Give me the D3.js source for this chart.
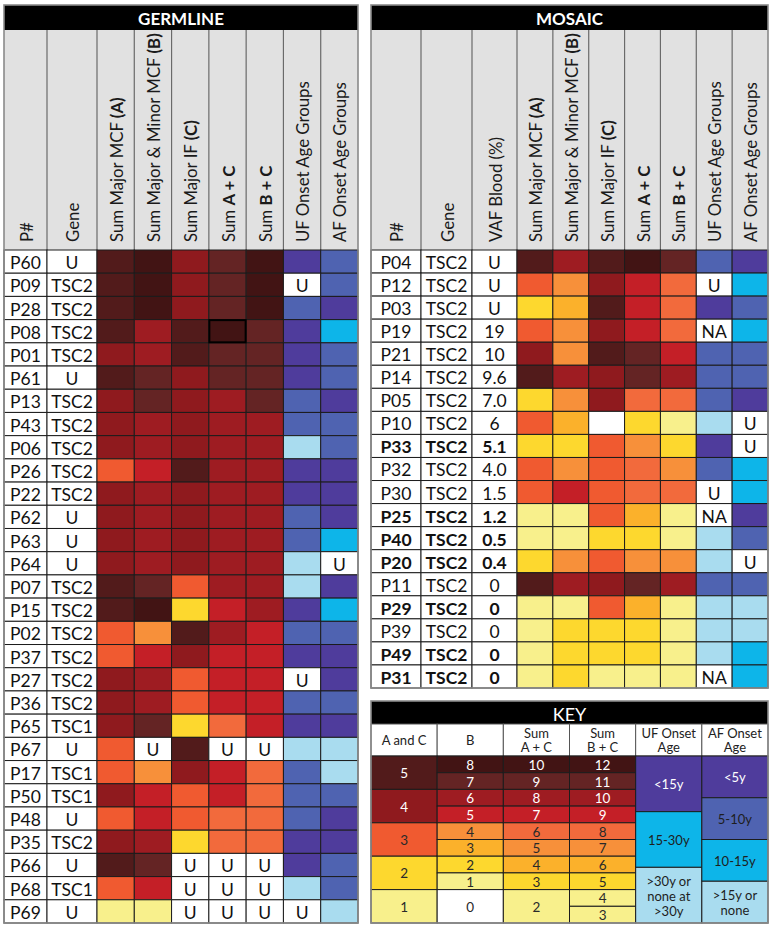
<!DOCTYPE html>
<html><head><meta charset="utf-8">
<script src="https://cdn.jsdelivr.net/npm/d3@7/dist/d3.min.js"></script>
<style>
body{margin:0;background:#fff;}
svg{display:block;}
text{font-family:Lato,"Open Sans",sans-serif;}
</style>
</head><body>
<svg id="chart" width="772" height="929"></svg>
<script>
// ---------------- DATA ----------------
// GERMLINE
const gIds  = ["P60","P09","P28","P08","P01","P61","P13","P43","P06","P26","P22","P62","P63","P64","P07","P15","P02","P37","P27","P36","P65","P67","P17","P50","P48","P35","P66","P68","P69"];
const gGene = ["U","TSC2","TSC2","TSC2","TSC2","U","TSC2","TSC2","TSC2","TSC2","TSC2","U","U","U","TSC2","TSC2","TSC2","TSC2","TSC2","TSC2","TSC1","U","TSC1","TSC1","U","TSC2","U","TSC1","U"];
const gA  = [5,5,5,5,4,5,4,4,4,3,4,4,4,4,5,5,3,3,4,4,4,3,3,4,3,4,5,3,1];
const gB  = [8,8,8,6,6,7,7,6,6,5,6,6,6,6,7,8,4,5,6,6,7,"U",4,5,5,6,7,5,1];
const gC  = [4,4,4,5,5,4,4,4,4,5,4,4,4,4,3,2,5,4,3,3,2,5,4,3,3,2,"U","U","U"];
const gAC = [9,9,9,10,9,9,8,8,8,8,8,8,8,8,8,7,8,7,7,7,6,"U",7,7,6,6,"U","U","U"];
const gBC = [12,12,12,11,11,11,11,10,10,10,10,10,10,10,10,10,9,9,9,9,9,"U",8,8,8,8,"U","U","U"];
// onset age groups: 1 = youngest (purple) ... 4 = oldest / none (light blue)
const gUF = [1,"U",2,1,1,1,2,2,4,1,1,2,2,4,4,1,2,1,"U",2,1,4,2,2,2,1,1,4,"U"];
const gAF = [2,2,1,3,2,2,1,2,2,1,1,1,3,"U",1,3,2,1,1,2,1,4,4,2,1,1,2,2,4];

// MOSAIC
const mIds  = ["P04","P12","P03","P19","P21","P14","P05","P10","P33","P32","P30","P25","P40","P20","P11","P29","P39","P49","P31"];
const mGene = ["TSC2","TSC2","TSC2","TSC2","TSC2","TSC2","TSC2","TSC2","TSC2","TSC2","TSC2","TSC2","TSC2","TSC2","TSC2","TSC2","TSC2","TSC2","TSC2"];
const mVAF  = ["U","U","U","19","10","9.6","7.0","6","5.1","4.0","1.5","1.2","0.5","0.4","0","0","0","0","0"];
const mBold = ["P33","P25","P40","P20","P29","P49","P31"];
const mA  = [5,3,2,3,4,5,2,3,2,3,3,1,1,2,5,1,1,1,1];
const mB  = [6,4,3,4,4,6,4,3,2,4,5,1,1,4,6,1,2,2,2];
const mC  = [5,4,5,4,5,4,4,0,3,3,3,3,2,3,4,3,2,2,1];
const mAC = [10,7,7,7,9,9,6,3,5,6,6,4,3,5,9,4,3,3,2];
const mBC = [11,8,8,8,9,10,8,3,5,7,8,4,3,7,10,4,4,4,3];
const mUF = [2,"U",1,"NA",2,2,2,4,1,2,"U","NA",4,4,2,4,4,4,"NA"];
const mAF = [1,3,2,3,2,2,1,"U","U",3,3,1,2,"U",2,4,4,3,3];

// Column headers: [regular part, bold part]
const gHeaders = [["P#",""],["Gene",""],["Sum Major MCF ","(A)"],["Sum Major & Minor MCF ","(B)"],["Sum Major IF ","(C)"],["Sum ","A + C"],["Sum ","B + C"],["UF Onset Age Groups",""],["AF Onset Age Groups",""]];
const mHeaders = [["P#",""],["Gene",""],["VAF Blood (%)",""],["Sum Major MCF ","(A)"],["Sum Major & Minor MCF ","(B)"],["Sum Major IF ","(C)"],["Sum ","A + C"],["Sum ","B + C"],["UF Onset Age Groups",""],["AF Onset Age Groups",""]];

// KEY
const keyHeaders = [["A and C"],["B"],["Sum","A + C"],["Sum","B + C"],["UF Onset","Age"],["AF  Onset","Age"]];
const keyAC   = [5,4,3,2,1];
const keyB    = [8,7,6,5,4,3,2,1,0];
const keySumAC= [10,9,8,7,6,5,4,3,2];
const keySumBC= [12,11,10,9,8,7,6,5,4,3];
const keyUF   = [[1,"<15y"],[3,"15-30y"],[4,">30y or|none at|>30y"]];
const keyAF   = [[1,"<5y"],[2,"5-10y"],[3,"10-15y"],[4,">15y or|none"]];

// ---------------- COLOURS ----------------
const L = ["#ffffff","#f8f08c","#fdd82e","#fbb12b","#f7903a","#f26a3c","#c41f27","#9e1c22","#642424","#421414"];
const colAC1 = d3.scaleOrdinal().domain([0,1,2,3,4,5]).range([L[0],L[1],L[2],"#f05a30","#8f1a1e","#521b1b"]);
const colB   = d3.scaleOrdinal().domain([0,1,2,3,4,5,6,7,8]).range([L[0],L[1],L[2],L[3],L[4],L[6],L[7],L[8],L[9]]);
const colSumAC = d3.scaleOrdinal().domain([2,3,4,5,6,7,8,9,10]).range(L.slice(1));
const colSumBC = d3.scaleOrdinal().domain([3,4,5,6,7,8,9,10,11,12]).range([L[1]].concat(L.slice(1)));
const colOnset = d3.scaleOrdinal().domain([1,2,3,4]).range(["#4f3c9c","#4f63b1","#0db5e9","#a9dcef"]);
function textOn(c){ return d3.hsl(c).l < 0.47 ? "#ffffff" : "#2a2a2a"; }

// ---------------- DRAW ----------------
const svg = d3.select("#chart");
const FONT = 17.5;

function drawTable(opt){
  const g = svg.append("g");
  const x0 = opt.x0, x1 = opt.x1;
  const band = d3.scaleBand().domain(d3.range(7)).range([opt.bandStart, x1]);
  const colX = opt.textEdges.slice(0);
  const colW = [];
  for(let i=0;i<opt.textEdges.length;i++){
    const next = (i < opt.textEdges.length-1) ? opt.textEdges[i+1] : opt.bandStart;
    colW.push(next - opt.textEdges[i]);
  }
  d3.range(7).forEach(i => { colX.push(band(i)); colW.push(band.bandwidth()); });
  const nText = opt.textEdges.length;

  const y = d3.scaleBand().domain(opt.ids).range([opt.bodyTop, opt.bodyBottom]);

  // title bar
  g.append("rect").attr("x", x0).attr("y", 5).attr("width", x1-x0).attr("height", 25).attr("fill", "#000");
  g.append("text").attr("x", (x0+x1)/2).attr("y", 18.5).attr("text-anchor","middle").attr("dominant-baseline","central")
    .attr("fill","#fff").attr("font-weight","bold").attr("font-size",17).text(opt.title);

  // header cells
  g.append("rect").attr("x", x0).attr("y", 30).attr("width", x1-x0).attr("height", opt.bodyTop-30).attr("fill","#e1e1e1");
  colX.forEach((cx,i) => {
    if(i>0) g.append("line").attr("x1",cx).attr("x2",cx).attr("y1",30).attr("y2",opt.bodyTop).attr("stroke","#6a6a6a").attr("stroke-width",1.2);
    const t = g.append("text").attr("transform",`translate(${cx+colW[i]/2},${opt.bodyTop-8}) rotate(-90)`)
      .attr("dominant-baseline","central").attr("font-size",16.8).attr("fill","#1a1a1a");
    t.append("tspan").text(opt.headers[i][0]);
    if(opt.headers[i][1]) t.append("tspan").attr("font-weight","bold").text(opt.headers[i][1]);
  });

  // body
  const rows = g.selectAll("g.row").data(opt.rows).enter().append("g").attr("class","row")
    .attr("transform", d => `translate(0,${y(d.id)})`);
  rows.each(function(d){
    const r = d3.select(this);
    d.cells.forEach((c,i) => {
      r.append("rect").attr("x", colX[i]).attr("y", 0).attr("width", colW[i]).attr("height", y.bandwidth())
        .attr("fill", c.fill).attr("stroke", "#1c1c1c").attr("stroke-width", 1);
      if(c.text !== null && c.text !== undefined){
        r.append("text").attr("x", colX[i]+colW[i]/2).attr("y", y.bandwidth()/2+1)
          .attr("text-anchor","middle").attr("dominant-baseline","central")
          .attr("font-size", FONT).attr("font-weight", (d.bold && i < nText) ? "bold":"normal").attr("fill","#111").text(c.text);
      }
    });
  });
  if(opt.highlight){
    opt.highlight.forEach(h => {
      g.append("rect").attr("x", colX[h.col]+0.5).attr("y", y(h.id)+0.5).attr("width", colW[h.col]-1).attr("height", y.bandwidth()-1)
        .attr("fill","none").attr("stroke","#000").attr("stroke-width",2);
    });
  }
  // outer frame
  g.append("rect").attr("x", x0).attr("y", 5).attr("width", x1-x0).attr("height", opt.bodyBottom-5)
    .attr("fill","none").attr("stroke","#8a8a8a").attr("stroke-width",1.6);
}

function onsetCell(v){
  if(typeof v === "number") return {fill: colOnset(v), text: null};
  return {fill:"#ffffff", text: v};
}
function scoreCell(fn, v){
  if(typeof v === "number") return {fill: fn(v), text: null};
  return {fill:"#ffffff", text: v};
}

const gRows = gIds.map((id,i) => ({
  id, bold:false,
  cells:[{fill:"#fff",text:id},{fill:"#fff",text:gGene[i]},
    scoreCell(colAC1,gA[i]),scoreCell(colB,gB[i]),scoreCell(colAC1,gC[i]),
    scoreCell(colSumAC,gAC[i]),scoreCell(colSumBC,gBC[i]),onsetCell(gUF[i]),onsetCell(gAF[i])]
}));
const mRows = mIds.map((id,i) => ({
  id, bold: mBold.includes(id),
  cells:[{fill:"#fff",text:id},{fill:"#fff",text:mGene[i]},{fill:"#fff",text:mVAF[i]},
    scoreCell(colAC1,mA[i]),scoreCell(colB,mB[i]),scoreCell(colAC1,mC[i]),
    scoreCell(colSumAC,mAC[i]),scoreCell(colSumBC,mBC[i]),onsetCell(mUF[i]),onsetCell(mAF[i])]
}));

drawTable({title:"GERMLINE", x0:4, x1:358, textEdges:[4,47], bandStart:97, bodyTop:250, bodyBottom:923,
  ids:gIds, rows:gRows, headers:gHeaders, highlight:[{id:"P08", col:5}]});
drawTable({title:"MOSAIC", x0:371, x1:768, textEdges:[371,421,472], bandStart:517, bodyTop:250, bodyBottom:688,
  ids:mIds, rows:mRows, headers:mHeaders});

// ---------------- KEY ----------------
(function(){
  const g = svg.append("g");
  const kx0 = 371, kx1 = 768, top = 701, hTop = 724, bTop = 756, bBot = 923;
  const kx = d3.scaleBand().domain(d3.range(6)).range([kx0,kx1]);
  const sub = d3.scaleLinear().domain([0,10]).range([bTop,bBot]);
  g.append("rect").attr("x",kx0).attr("y",top).attr("width",kx1-kx0).attr("height",hTop-top).attr("fill","#000");
  g.append("text").attr("x",(kx0+kx1)/2).attr("y",(top+hTop)/2+1).attr("text-anchor","middle").attr("dominant-baseline","central")
    .attr("fill","#fff").attr("font-size",18).text("KEY");
  keyHeaders.forEach((h,i) => {
    g.append("rect").attr("x",kx(i)).attr("y",hTop).attr("width",kx.bandwidth()).attr("height",bTop-hTop)
      .attr("fill","#fff").attr("stroke","#555").attr("stroke-width",1);
    h.forEach((line,j) => {
      g.append("text").attr("x",kx(i)+kx.bandwidth()/2).attr("y", (hTop+bTop)/2 + (j - (h.length-1)/2)*14.5)
        .attr("text-anchor","middle").attr("dominant-baseline","central").attr("font-size",13).attr("fill","#222").text(line);
    });
  });
  function cell(col, r0, r1, fill, label, tcol, fs, lh){
    g.append("rect").attr("x",kx(col)).attr("y",sub(r0)).attr("width",kx.bandwidth()).attr("height",sub(r1)-sub(r0))
      .attr("fill",fill).attr("stroke","#1c1c1c").attr("stroke-width",1);
    const lines = String(label).split("|");
    lines.forEach((ln,j) => {
      g.append("text").attr("x",kx(col)+kx.bandwidth()/2).attr("y",(sub(r0)+sub(r1))/2 + (j-(lines.length-1)/2)*(lh||14) + 0.5)
        .attr("text-anchor","middle").attr("dominant-baseline","central").attr("font-size",fs||13.5)
        .attr("fill", tcol || textOn(fill)).text(ln);
    });
  }
  keyAC.forEach((v,i) => cell(0, i*2, i*2+2, colAC1(v), v));
  keyB.forEach((v,i) => cell(1, i, v===0 ? 10 : i+1, colB(v), v));
  keySumAC.forEach((v,i) => cell(2, i, v===2 ? 10 : i+1, colSumAC(v), v));
  keySumBC.forEach((v,i) => cell(3, i, i+1, colSumBC(v), v));
  const ufStep = 10/keyUF.length, afStep = 10/keyAF.length;
  keyUF.forEach((d,i) => cell(4, i*ufStep, (i+1)*ufStep, colOnset(d[0]), d[1], d[0]===1?"#fff":"#1e1e1e", 13, 15));
  keyAF.forEach((d,i) => cell(5, i*afStep, (i+1)*afStep, colOnset(d[0]), d[1], d[0]===1?"#fff":"#1e1e1e", 13, 15));
  g.append("rect").attr("x",kx0).attr("y",top).attr("width",kx1-kx0).attr("height",bBot-top)
    .attr("fill","none").attr("stroke","#8a8a8a").attr("stroke-width",1.6);
})();
</script>
</body></html>
